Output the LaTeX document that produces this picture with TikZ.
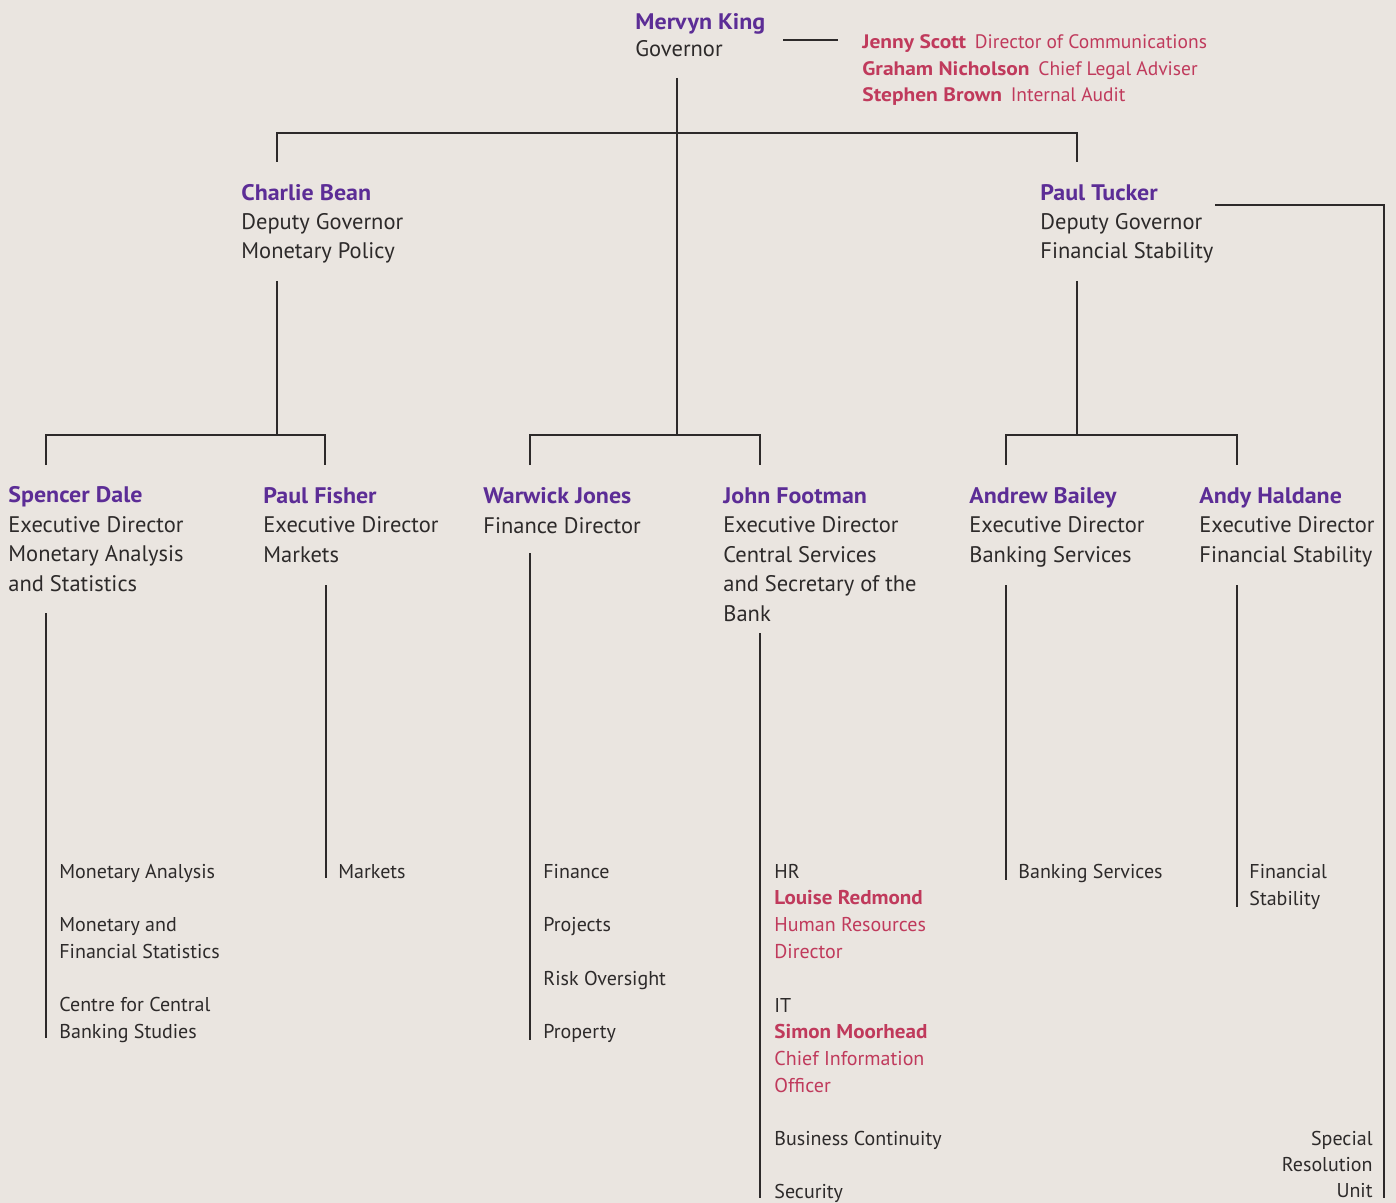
\documentclass[tikz,border=0pt]{standalone}
\usepackage{fontspec}
\setmainfont{PT Sans}
\usepackage{tikz}
\definecolor{paper}{RGB}{234,229,224}
\definecolor{ink}{RGB}{45,42,42}
\definecolor{boe}{RGB}{92,45,150}
\definecolor{rose}{RGB}{192,58,92}
\newcommand{\who}[1]{\textcolor{boe}{\bfseries\addfontfeature{FakeStretch=1.065}#1}}
\newcommand{\aide}[1]{\textcolor{rose}{\bfseries\addfontfeature{FakeStretch=1.055}#1}}
\newcommand{\officer}[1]{\textcolor{rose}{\bfseries\addfontfeature{FakeStretch=1.1}#1}}
\tikzset{
  rule/.style={draw=ink, line width=0.6pt},
  head/.style={anchor=base west, inner sep=0pt, align=left, text=ink,
    font=\fontsize{11.25}{14.7}\selectfont},
  unit/.style={anchor=base west, inner sep=0pt, align=left, text=ink,
    font=\fontsize{10}{13.33}\selectfont},
}

\begin{document}
\begin{tikzpicture}[x=0.5pt, y=-0.5pt]
		%%%%% START %%%%%
		\fill[paper] (0,0) rectangle (1396,1203);
		\useasboundingbox (0,0) rectangle (1396,1203);
		
		% governor and his office (anchored on the last line)
		\node[head] (king) at (635,57) {\who{Mervyn King}\\[-0.9pt]Governor};
		\node[unit, text=rose, font=\fontsize{9.75}{13.25}\selectfont] (office) at (862,102)
			{\officer{Jenny Scott}\hspace{0.45em}Director of Communications\\
			 \officer{Graham Nicholson}\hspace{0.45em}Chief Legal Adviser\\
			 \officer{Stephen Brown}\hspace{0.45em}Internal Audit};
		
		% deputy governors
		\node[head] (bean) at (241,259) {\who{Charlie Bean}\\Deputy Governor\\Monetary Policy};
		\node[head] (tucker) at (1040,259) {\who{Paul Tucker}\\Deputy Governor\\Financial Stability};
		
		% executive directors
		\node[head] (dale) at (8,591) {\who{Spencer Dale}\\Executive Director\\Monetary Analysis\\and Statistics};
		\node[head] (fisher) at (263,562) {\who{Paul Fisher}\\Executive Director\\Markets};
		\node[head] (jones) at (483,533) {\who{Warwick Jones}\\Finance Director};
		\node[head] (footman) at (723,621) {\who{John Footman}\\Executive Director\\Central Services\\and Secretary of the\\Bank};
		\node[head] (bailey) at (969,562) {\who{Andrew Bailey}\\Executive Director\\Banking Services};
		\node[head] (haldane) at (1199,562) {\who{Andy Haldane}\\Executive Director\\Financial Stability};
		
		% areas
		\node[unit] (mona) at (59,878) {Monetary Analysis};
		\node[unit] (mfs) at (59,958) {Monetary and\\Financial Statistics};
		\node[unit] (ccbs) at (59,1038) {Centre for Central\\Banking Studies};
		\node[unit] (markets) at (338,878) {Markets};
		\node[unit] (finance) at (543,878) {Finance};
		\node[unit] (projects) at (543,931) {Projects};
		\node[unit] (risk) at (543,985) {Risk Oversight};
		\node[unit] (property) at (543,1038) {Property};
		\node[unit] (hr) at (774,958) {HR\\\aide{Louise Redmond}\\\textcolor{rose}{Human Resources}\\\textcolor{rose}{Director}};
		\node[unit] (it) at (774,1092) {IT\\\aide{Simon Moorhead}\\\textcolor{rose}{Chief Information}\\\textcolor{rose}{Officer}};
		\node[unit] (contin) at (774,1145) {Business Continuity};
		\node[unit] (security) at (774,1198) {Security};
		\node[unit] (banking) at (1018,878) {Banking Services};
		\node[unit] (finstab) at (1249,905) {Financial\\Stability};
		\node[unit, anchor=base east, align=right, font=\fontsize{10}{13}\selectfont] (sru) at (1373,1197) {Special\\Resolution\\Unit};
		
		% junctions
		\coordinate (kinglink) at (783,40);
		\coordinate (officelink) at (838,40);
		\coordinate (kingstem) at (677,78);
		\coordinate (beandrop) at (277,162);
		\coordinate (tuckerdrop) at (1077,162);
		\coordinate (beanstem) at (277,281);
		\coordinate (tuckerstem) at (1077,281);
		\coordinate (tuckerlink) at (1215,205);
		\coordinate (sruend) at (1384,1198);
		\coordinate (daledrop) at (46,465);
		\coordinate (fisherdrop) at (325,465);
		\coordinate (jonesdrop) at (530,465);
		\coordinate (footmandrop) at (760,465);
		\coordinate (baileydrop) at (1006,465);
		\coordinate (haldanedrop) at (1237,465);
		
		\draw[rule] (kinglink) -- (officelink);
		\draw[rule] (kingstem) -- ++(0,357);
		\draw[rule] (beandrop) -- ++(0,-29) -| (tuckerdrop);
		\draw[rule] (beanstem) -- ++(0,154);
		\draw[rule] (tuckerstem) -- ++(0,154);
		\draw[rule] (tuckerlink) -| (sruend);
		
		\draw[rule] (daledrop) -- ++(0,-30) -| (fisherdrop);
		\draw[rule] (jonesdrop) -- ++(0,-30) -| (footmandrop);
		\draw[rule] (baileydrop) -- ++(0,-30) -| (haldanedrop);
		
		\draw[rule] (daledrop |- 0,613) -- (daledrop |- ccbs.base);
		\draw[rule] (326,585) -- (326,878);
		\draw[rule] (jonesdrop |- 0,553) -- (jonesdrop |- 0,1040);
		\draw[rule] (footmandrop |- 0,633) -- (footmandrop |- sruend);
		\draw[rule] (baileydrop |- 0,585) -- (baileydrop |- 0,880);
		\draw[rule] (haldanedrop |- 0,585) -- (haldanedrop |- 0,907);
		
		%%%%% END %%%%%
\end{tikzpicture}
\end{document}
